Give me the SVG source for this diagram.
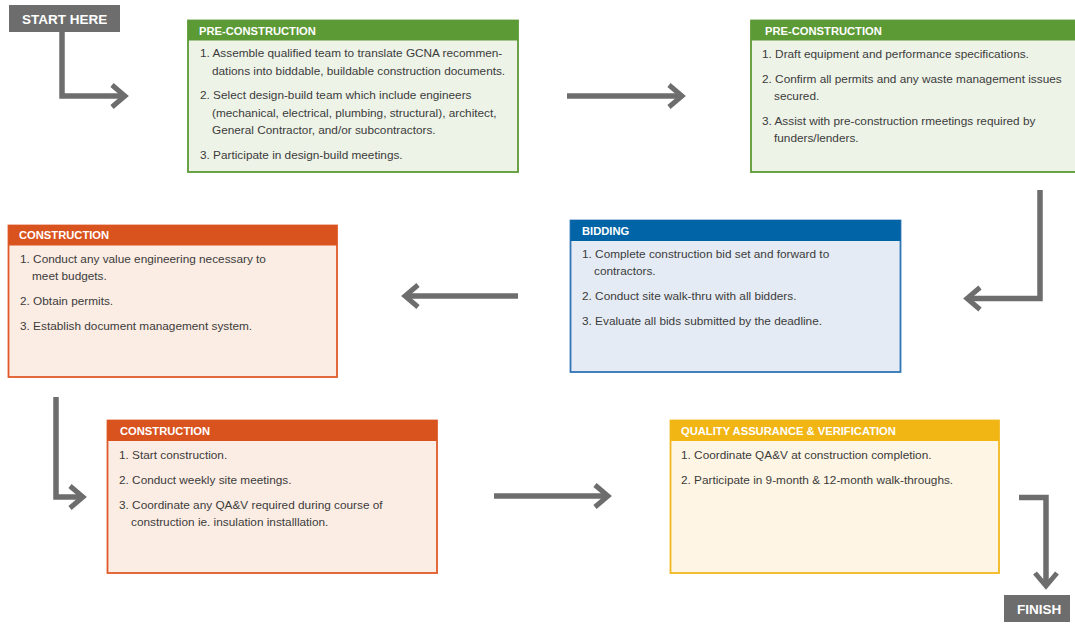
<svg xmlns="http://www.w3.org/2000/svg" width="1075" height="627" viewBox="0 0 1075 627">
<defs>
<style>
.bg{fill:#ffffff}
.term{fill:#6d6d6e}
.termt{font-family:"Liberation Sans",Arial,sans-serif;font-weight:bold;fill:#ffffff;font-size:13.5px}
.hd{font-family:"Liberation Sans",Arial,sans-serif;font-weight:bold;fill:#ffffff;font-size:11.2px}
.it{font-family:"Liberation Sans",Arial,sans-serif;fill:#3b3b3b;font-size:11.8px}
.g-body{fill:#eef3e8;stroke:#5c9a35;stroke-width:1.8}
.g-head{fill:#5c9a35}
.o-body{fill:#fcede4;stroke:#e0592a;stroke-width:1.8}
.o-head{fill:#d9531f}
.b-body{fill:#e5ebf4;stroke:#2f74b5;stroke-width:1.8}
.b-head{fill:#0064a7}
.y-body{fill:#fef5e4;stroke:#f1b71d;stroke-width:1.8}
.y-head{fill:#f1b514}
.conn{fill:none;stroke:#6d6d6e;stroke-width:5.5;stroke-linejoin:miter;marker-end:url(#chev)}
</style>
<marker id="chev" markerUnits="userSpaceOnUse" orient="auto" refX="0" refY="0" markerWidth="40" markerHeight="40" viewBox="-20 -20 40 40" overflow="visible">
<polyline points="-13,-11 0,0 -13,11" fill="none" stroke="#6d6d6e" stroke-width="5" stroke-linejoin="miter"/>
</marker>
</defs>
<rect class="bg" x="0" y="0" width="1075" height="627"/>

<g id="connectors">
<path class="conn" d="M62,31 V96 H125"/>
<path class="conn" d="M567,96 H682"/>
<path class="conn" d="M1040,190 V298.5 H967"/>
<path class="conn" d="M518,296 H405"/>
<path class="conn" d="M56,397 V497 H83"/>
<path class="conn" d="M494,496 H608"/>
<path class="conn" d="M1019,497.5 H1046 V586"/>
</g>

<g id="start">
<rect class="term" x="9" y="5" width="111" height="27"/>
<text class="termt" x="22" y="23.5">START HERE</text>
</g>

<g id="pre1">
<rect class="g-body" x="188" y="20.5" width="330" height="151.5"/>
<rect class="g-head" x="188" y="20" width="330" height="20.5"/>
<text class="hd" x="199" y="35">PRE-CONSTRUCTION</text>
<text class="it" x="200" y="57">1. Assemble qualified team to translate GCNA recommen-</text>
<text class="it" x="212" y="75">dations into biddable, buildable construction documents.</text>
<text class="it" x="200" y="99">2. Select design-build team which include engineers</text>
<text class="it" x="212" y="117">(mechanical, electrical, plumbing, structural), architect,</text>
<text class="it" x="212" y="134">General Contractor, and/or subcontractors.</text>
<text class="it" x="200" y="159">3. Participate in design-build meetings.</text>
</g>

<g id="pre2">
<rect class="g-body" x="751" y="20.5" width="330" height="151.5"/>
<rect class="g-head" x="751" y="20" width="330" height="20.5"/>
<text class="hd" x="765" y="35">PRE-CONSTRUCTION</text>
<text class="it" x="762" y="58">1. Draft equipment and performance specifications.</text>
<text class="it" x="762" y="83">2. Confirm all permits and any waste management issues</text>
<text class="it" x="774" y="100">secured.</text>
<text class="it" x="762" y="125">3. Assist with pre-construction rmeetings required by</text>
<text class="it" x="774" y="142">funders/lenders.</text>
</g>

<g id="bidding">
<rect class="b-body" x="570.5" y="220.5" width="330" height="151.5"/>
<rect class="b-head" x="570.5" y="220" width="330" height="21"/>
<text class="hd" x="582" y="235">BIDDING</text>
<text class="it" x="582" y="258">1. Complete construction bid set and forward to</text>
<text class="it" x="594" y="275">contractors.</text>
<text class="it" x="582" y="300">2. Conduct site walk-thru with all bidders.</text>
<text class="it" x="582" y="325">3. Evaluate all bids submitted by the deadline.</text>
</g>

<g id="construction1">
<rect class="o-body" x="8.5" y="225.5" width="328.5" height="151.5"/>
<rect class="o-head" x="8.5" y="225" width="328.5" height="20.5"/>
<text class="hd" x="19" y="239">CONSTRUCTION</text>
<text class="it" x="20" y="263">1. Conduct any value engineering necessary to</text>
<text class="it" x="32" y="280">meet budgets.</text>
<text class="it" x="20" y="305">2. Obtain permits.</text>
<text class="it" x="20" y="330">3. Establish document management system.</text>
</g>

<g id="construction2">
<rect class="o-body" x="107.5" y="420.5" width="329.5" height="152.5"/>
<rect class="o-head" x="107.5" y="420" width="329.5" height="21"/>
<text class="hd" x="120" y="435">CONSTRUCTION</text>
<text class="it" x="119" y="459">1. Start construction.</text>
<text class="it" x="119" y="484">2. Conduct weekly site meetings.</text>
<text class="it" x="119" y="509">3. Coordinate any QA&amp;V required during course of</text>
<text class="it" x="131" y="526">construction ie. insulation installlation.</text>
</g>

<g id="qav">
<rect class="y-body" x="670.5" y="420.5" width="328.5" height="152.5"/>
<rect class="y-head" x="670.5" y="420" width="328.5" height="21"/>
<text class="hd" x="681" y="435">QUALITY ASSURANCE &amp; VERIFICATION</text>
<text class="it" x="681" y="459">1. Coordinate QA&amp;V at construction completion.</text>
<text class="it" x="681" y="484">2. Participate in 9-month &amp; 12-month walk-throughs.</text>
</g>

<g id="finish">
<rect class="term" x="1004" y="595" width="66" height="27"/>
<text class="termt" x="1017" y="613.5">FINISH</text>
</g>
</svg>
